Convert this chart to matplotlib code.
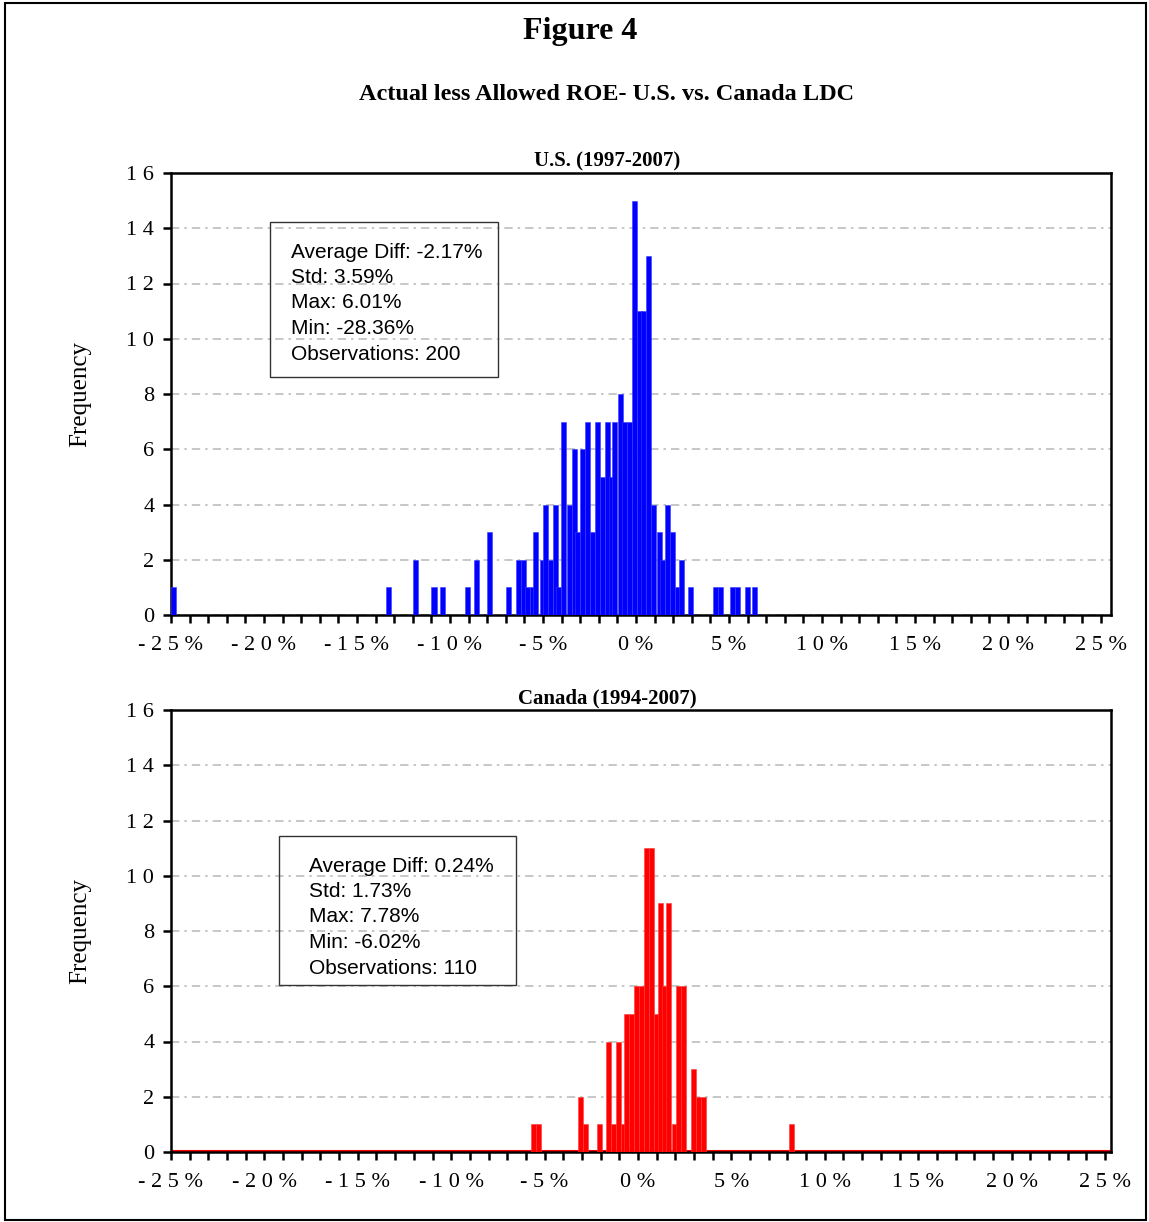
import matplotlib
matplotlib.use("Agg")
import matplotlib.pyplot as plt
from matplotlib.patches import Rectangle
from matplotlib.ticker import MultipleLocator

# Bin centres (% actual less allowed ROE) and frequencies
us_bins = [-24.84, -13.31, -11.85, -10.86, -10.40, -9.06, -8.55, -7.90, -6.85,
           -6.32, -6.06, -5.81, -5.58, -5.38, -5.04, -4.85, -4.60, -4.33, -4.14,
           -3.90, -3.55, -3.33, -3.13, -2.87, -2.61, -2.34, -2.07, -1.82, -1.55,
           -1.34, -1.15, -0.82, -0.61, -0.36, -0.09, 0.18, 0.43, 0.69, 0.96,
           1.25, 1.44, 1.69, 1.98, 2.25, 2.45, 2.95, 4.28, 4.55, 5.19, 5.46,
           6.00, 6.39]
us_counts = [1, 1, 2, 1, 1, 1, 2, 3, 1,
             2, 2, 1, 1, 3, 2, 4, 2, 4, 1,
             7, 4, 6, 3, 6, 7, 3, 7, 5, 7,
             5, 7, 8, 7, 7, 15, 11, 11, 13, 4,
             3, 2, 4, 3, 1, 2, 1, 1, 1, 1, 1,
             1, 1]

ca_bins = [-5.59, -5.33, -3.09, -2.83, -2.05, -1.58, -1.31, -1.05, -0.80,
           -0.60, -0.33, -0.06, 0.20, 0.47, 0.73, 0.99, 1.19, 1.40, 1.65,
           1.96, 2.17, 2.44, 2.96, 3.22, 3.49, 8.22]
ca_counts = [1, 1, 2, 1, 1, 4, 1, 4, 1,
             5, 5, 6, 6, 11, 11, 5, 9, 6, 9,
             1, 6, 6, 3, 2, 2, 1]

us_stats = ["Average Diff: -2.17%", "Std: 3.59%", "Max: 6.01%",
            "Min: -28.36%", "Observations: 200"]
ca_stats = ["Average Diff: 0.24%", "Std: 1.73%", "Max: 7.78%",
            "Min: -6.02%", "Observations: 110"]

x_ticks = [-25, -20, -15, -10, -5, 0, 5, 10, 15, 20, 25]
x_labels = ["- 2 5 %", "- 2 0 %", "- 1 5 %", "- 1 0 %", "- 5 %", "0 %",
            "5 %", "1 0 %", "1 5 %", "2 0 %", "2 5 %"]
y_ticks = [0, 2, 4, 6, 8, 10, 12, 14, 16]
y_labels = ["0", "2", "4", "6", "8", "1 0", "1 2", "1 4", "1 6"]

W, H = 1149, 1222
SERIF = ["Liberation Serif", "DejaVu Serif"]
SANS = ["Liberation Sans", "DejaVu Sans"]

fig = plt.figure(figsize=(W / 100, H / 100), dpi=100)


def fx(px):
    return px / W


def fy(py):
    return 1 - py / H


# outer frame
fig.patches.append(Rectangle((fx(5), fy(1220)), fx(1146) - fx(5), fy(3) - fy(1220),
                             transform=fig.transFigure, fill=False,
                             edgecolor="black", linewidth=1.5))

fig.text(fx(580), fy(31), "Figure 4", ha="center", va="center",
         fontsize=23, fontweight="bold", family=SERIF)
fig.text(fx(607), fy(95), "Actual less Allowed ROE- U.S. vs. Canada LDC",
         ha="center", va="center", fontsize=17.5, fontweight="bold", family=SERIF)


def draw_panel(top, bins, counts, color, edge, title, stats, box, xmax):
    ax = fig.add_axes([fx(171), fy(top + 442), fx(1111) - fx(171), 442 / H])
    ax.bar(bins, counts, width=0.27, color=color, edgecolor=edge,
           linewidth=0.4, zorder=3)
    ax.set_xlim(-25, xmax)
    ax.set_ylim(0, 16)
    ax.set_xticks(x_ticks)
    ax.set_xticklabels(x_labels, family=SERIF, fontsize=16)
    ax.xaxis.set_minor_locator(MultipleLocator(1))
    ax.set_yticks(y_ticks)
    ax.set_yticklabels(y_labels, family=SERIF, fontsize=16)
    ax.tick_params(axis="x", which="both", direction="out", length=6,
                   width=1.8, pad=9)
    ax.tick_params(axis="y", direction="out", length=6, width=1.8, pad=6)
    for s in ax.spines.values():
        s.set_linewidth(1.8)
    ax.set_axisbelow(True)
    ax.yaxis.grid(True, color="#bdbdbd", linewidth=1.2,
                  linestyle=(0, (5, 3, 1.5, 3)))
    ax.set_facecolor("white")

    fig.text(fx(607), fy(top - 12), title, ha="center", va="center",
             fontsize=15, fontweight="bold", family=SERIF)
    fig.text(fx(80), fy(top + 221), "Frequency", rotation=90, ha="center",
             va="center", fontsize=18, family=SERIF)

    x0, y0, x1, y1, tx = box
    fig.patches.append(Rectangle((fx(x0), fy(y1)), fx(x1) - fx(x0), fy(y0) - fy(y1),
                                 transform=fig.transFigure, fill=False,
                                 edgecolor="#333333", linewidth=1.0))
    for i, line in enumerate(stats):
        fig.text(fx(tx), fy(y0 + 28 + 25.5 * i), line, ha="left",
                 va="center_baseline", fontsize=15, family=SANS)
    return ax


draw_panel(173, us_bins, us_counts, "#0000ff", "#3a3aff", "U.S. (1997-2007)",
           us_stats, (270, 222, 498, 377, 291), 25.54)
ax2 = draw_panel(710, ca_bins, ca_counts, "#ff0000", "#ff3a3a", "Canada (1994-2007)",
                 ca_stats, (279, 836, 516, 985, 309), 25.32)
ax2.axhline(0.04, color="#ff0000", linewidth=1.5, zorder=2)

fig.savefig("out.png", dpi=100)
